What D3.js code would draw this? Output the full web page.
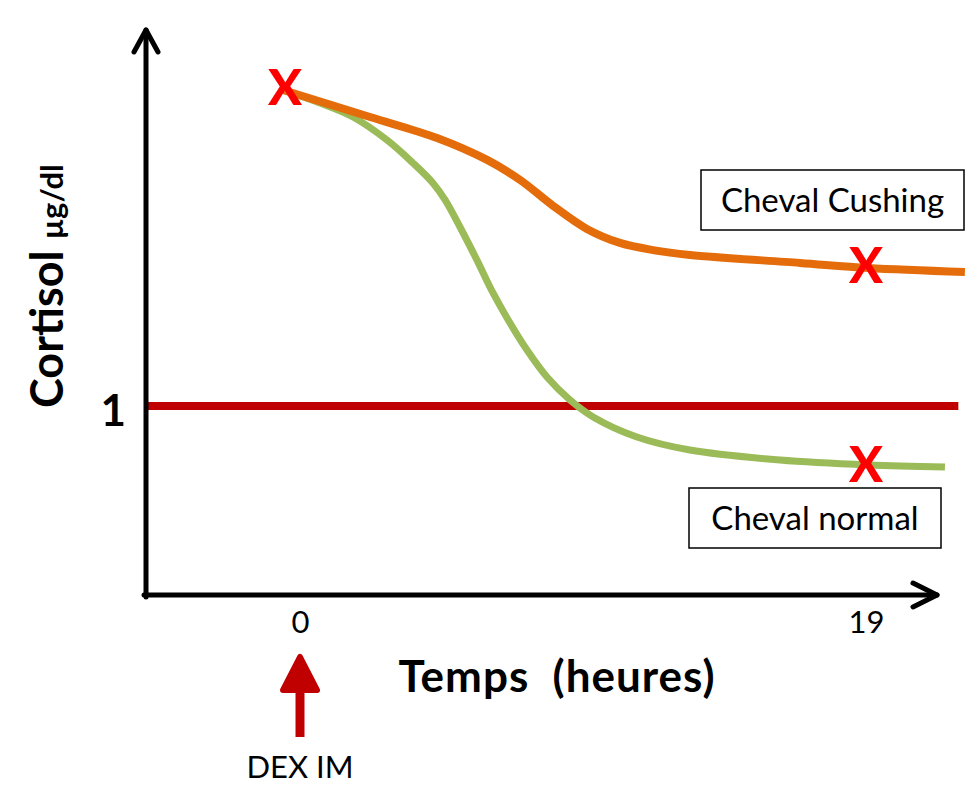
<!DOCTYPE html>
<html>
<head>
<meta charset="utf-8">
<script src="https://cdn.jsdelivr.net/npm/d3@7"></script>
<style>
  body { margin: 0; background: #fff; }
  text { font-family: Lato, "Open Sans", sans-serif; }
</style>
</head>
<body>
<svg width="971" height="798"></svg>
<script>
// heures / cortisol (µg/dl)
var cushingHours  = [-0.57, 2.35, 4.60, 6.28, 7.39, 8.49, 9.63, 10.74, 11.85, 13.09, 16.78, 19.07, 22.32];
var cushingValues = [2.672, 2.529, 2.418, 2.302, 2.196, 2.060, 1.937, 1.863, 1.825, 1.799, 1.757, 1.730, 1.709];

var normalHours  = [-0.57, 0.67, 1.78, 2.92, 3.79, 4.46, 4.87, 5.37, 5.94, 6.48, 7.05, 7.62, 8.29, 9.06, 9.84, 11.31, 13.09, 16.11, 19.07, 21.65];
var normalValues = [2.672, 2.603, 2.529, 2.407, 2.286, 2.180, 2.090, 1.947, 1.772, 1.598, 1.439, 1.296, 1.153, 1.032, 0.942, 0.836, 0.767, 0.714, 0.688, 0.677];

// prélèvements (X rouges)
var sampleHours  = [-0.5, 19, 19];
var sampleValues = [2.68, 1.74, 0.69];

var seuil = 1;
var seuilEnd = 22.1;
var xTicks = [0, 19];
var yTicks = [1];
var dexHour = 0;

var svg = d3.select("svg");

var originX = 146, originY = 595, xEnd = 937, yTop = 30;

var x = d3.scaleLinear().domain([0, 19]).range([300, 866]);
var y = d3.scaleLinear().domain([0, 1]).range([originY, 406]);

//Seuil à 1 µg/dl
svg.append("line")
    .attr("x1", originX)
    .attr("x2", x(seuilEnd))
    .attr("y1", y(seuil))
    .attr("y2", y(seuil))
    .attr("stroke", "#C00000")
    .attr("stroke-width", 8);

var line = d3.line()
    .x(function(d) { return x(d[0]); })
    .y(function(d) { return y(d[1]); })
    .curve(d3.curveCatmullRom.alpha(0.5));

svg.append("path")
    .datum(d3.zip(normalHours, normalValues))
    .attr("d", line)
    .attr("fill", "none")
    .attr("stroke", "#9BBB59")
    .attr("stroke-width", 7);

svg.append("path")
    .datum(d3.zip(cushingHours, cushingValues))
    .attr("d", line)
    .attr("fill", "none")
    .attr("stroke", "#E46C0A")
    .attr("stroke-width", 8);

// X rouges
svg.append("g")
    .selectAll("text")
    .data(d3.zip(sampleHours, sampleValues))
    .enter().append("text")
    .attr("x", function(d) { return x(d[0]); })
    .attr("y", function(d) { return y(d[1]) + 17; })
    .attr("text-anchor", "middle")
    .attr("font-size", 50)
    .attr("font-weight", 900)
    .attr("fill", "#FF0000")
    .text("X");

// Axes avec flèches
var axes = svg.append("g")
    .attr("stroke", "#000")
    .attr("stroke-width", 5)
    .attr("fill", "none")
    .attr("stroke-linecap", "round")
    .attr("stroke-linejoin", "round");

axes.append("path").attr("d", "M" + originX + "," + (originY + 2) + "V" + yTop);
axes.append("path").attr("d", "M" + (originX - 12) + "," + (yTop + 22) + "L" + originX + "," + yTop + "L" + (originX + 12) + "," + (yTop + 22));
axes.append("path").attr("d", "M" + (originX - 2) + "," + originY + "H" + xEnd);
axes.append("path").attr("d", "M" + (xEnd - 24) + "," + (originY - 12) + "L" + xEnd + "," + originY + "L" + (xEnd - 24) + "," + (originY + 12));

var gx = svg.append("g")
    .attr("transform", "translate(0," + originY + ")")
    .call(d3.axisBottom(x).tickValues(xTicks).tickSize(0).tickPadding(16).tickFormat(d3.format("d")));
gx.select(".domain").remove();
gx.selectAll("text")
    .attr("font-family", "Lato, sans-serif")
    .attr("font-size", 31)
    .attr("fill", "#000");

var gy = svg.append("g")
    .attr("transform", "translate(" + originX + ",0)")
    .call(d3.axisLeft(y).tickValues(yTicks).tickSize(0).tickPadding(20).tickFormat(d3.format("d")));
gy.select(".domain").remove();
gy.selectAll("text")
    .attr("font-family", "Lato, sans-serif")
    .attr("font-size", 44)
    .attr("font-weight", "bold")
    .attr("dy", "0.45em")
    .attr("fill", "#000");

// Titres des axes
svg.append("text")
    .attr("x", 557)
    .attr("y", 692)
    .attr("text-anchor", "middle")
    .attr("font-size", 44)
    .attr("font-weight", "bold")
    .attr("letter-spacing", 1)
    .attr("xml:space", "preserve")
    .text("Temps  (heures)");

var ylab = svg.append("text")
    .attr("transform", "translate(63,408) rotate(-90)")
    .attr("font-weight", "bold")
    .attr("font-size", 45);
ylab.append("tspan").text("Cortisol ");
ylab.append("tspan").attr("font-size", 31).text("µg/dl");

// Flèche DEX IM
svg.append("path")
    .attr("d", "M" + x(dexHour) + ",737V675")
    .attr("stroke", "#C00000")
    .attr("stroke-width", 9);
svg.append("path")
    .attr("d", "M" + (x(dexHour) - 17) + ",690L" + x(dexHour) + ",657L" + (x(dexHour) + 17) + ",690Z")
    .attr("fill", "#C00000")
    .attr("stroke", "#C00000")
    .attr("stroke-width", 6)
    .attr("stroke-linejoin", "round");
svg.append("text")
    .attr("x", x(dexHour))
    .attr("y", 778)
    .attr("text-anchor", "middle")
    .attr("font-size", 31)
    .text("DEX IM");

// Légendes
var legends = [
    {label: "Cheval Cushing", x: 701, y: 170, w: 263, h: 60},
    {label: "Cheval normal", x: 689, y: 488, w: 252, h: 60}
];
var lg = svg.append("g").selectAll("g")
    .data(legends)
    .enter().append("g")
    .attr("transform", function(d) { return "translate(" + d.x + "," + d.y + ")"; });
lg.append("rect")
    .attr("width", function(d) { return d.w; })
    .attr("height", function(d) { return d.h; })
    .attr("fill", "#fff")
    .attr("stroke", "#000")
    .attr("stroke-width", 1.5);
lg.append("text")
    .attr("x", function(d) { return d.w / 2; })
    .attr("y", 42)
    .attr("text-anchor", "middle")
    .attr("font-size", 33)
    .text(function(d) { return d.label; });
</script>
</body>
</html>
